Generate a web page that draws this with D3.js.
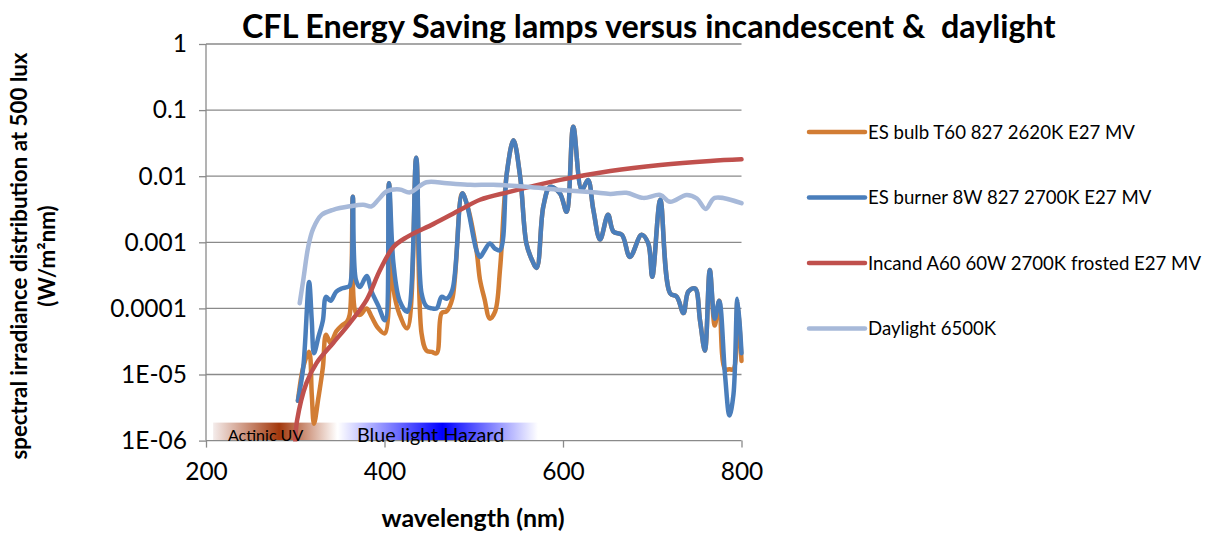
<!DOCTYPE html>
<meta charset="utf-8">
<title>CFL spectra</title>
<script src="https://d3js.org/d3.v7.min.js"></script>
<style>
  body { margin: 0; background: #fff; }
  text { font-family: Lato, "Open Sans", sans-serif; fill: #000; }
  .grid line { stroke: #8a8a8a; stroke-width: 1.3; }
  .axis path, .axis line { stroke: #8a8a8a; stroke-width: 1.3; }
  .axis text { font-size: 24.5px; }
  .series { fill: none; stroke-width: 4.5; stroke-linejoin: round; stroke-linecap: round; }
</style>
<body>
<div id="chart"></div>
<script>
// wavelengths (nm) shared by the two CFL spectra
var wlLamp = [303, 309, 315.5, 318.5, 321, 326, 331, 334.5, 339.5, 346, 352, 358, 361, 364.5, 368, 372.5,
  380, 385.5, 393, 400.5, 405, 410, 417, 425.5, 435.5, 441.5, 447, 453, 458.5, 464, 469.5, 476,
  487, 492, 503, 507, 512, 518, 524, 529.5, 537, 544.5, 552, 559, 565, 570.5, 578, 585.5, 596.5,
  604, 611.5, 621, 628, 634, 641.5, 650.5, 656.5, 666, 675, 688, 695.5, 700, 709, 720, 727.5,
  735, 740.5, 748, 753.5, 759, 764.5, 770, 775, 781.5, 786.5, 791, 795.5, 800];

var esBurner = [4e-6, 1.3e-5, 2.5e-4, 6.6e-5, 2.1e-5, 3.7e-5, 6.6e-5, 1.5e-4, 1.3e-4, 1.8e-4, 2.0e-4, 2.1e-4,
  2.2e-4, 4.9e-3, 2.7e-4, 2.1e-4, 3.1e-4, 1.8e-4, 1.1e-4, 6.6e-5, 7.8e-3, 4.8e-4, 1.3e-4, 8.9e-5,
  1.9e-2, 1.7e-4, 1.07e-4, 1.0e-4, 1.0e-4, 1.5e-4, 1.4e-4, 1.9e-4, 5.5e-3, 3.9e-3, 7.6e-4, 6e-4,
  7.5e-4, 9.6e-4, 8e-4, 7.6e-4, 1.1e-2, 3.5e-2, 9.8e-3, 9.6e-4, 5.5e-4, 4.1e-4, 3.5e-3, 6.9e-3,
  5.5e-3, 2.9e-3, 5.6e-2, 6.2e-3, 8.8e-3, 3.1e-3, 1.1e-3, 2.6e-3, 1.45e-3, 1.3e-3, 6e-4, 1.3e-3,
  9.6e-4, 3e-4, 4.4e-3, 1.7e-4, 1.5e-4, 8.5e-5, 1.8e-4, 2e-4, 6.6e-5, 2.3e-5, 3.8e-4, 7e-5, 1.3e-4,
  1e-5, 2.4e-6, 5e-6, 1.4e-4, 2.1e-5];

var esBulb = [4e-6, 1.3e-5, 2.2e-5, 5e-6, 1.8e-6, 4.5e-6, 1.3e-5, 4e-5, 3e-5, 4.5e-5, 5.5e-5, 6.3e-5,
  8e-5, 4.9e-3, 8.5e-5, 8e-5, 1e-4, 7.5e-5, 5e-5, 4.2e-5, 7.8e-3, 2e-4, 8e-5, 5e-5,
  1.9e-2, 4.2e-5, 2.3e-5, 2.2e-5, 2.1e-5, 8.5e-5, 9e-5, 1.4e-4, 5.5e-3, 3.9e-3, 7.6e-4, 2.7e-4,
  1.4e-4, 7e-5, 9e-5, 4e-4, 1.1e-2, 3.5e-2, 9.8e-3, 9.6e-4, 5.5e-4, 4.1e-4, 3.5e-3, 6.9e-3,
  5.5e-3, 2.9e-3, 5.6e-2, 6.2e-3, 8.8e-3, 3.1e-3, 1.1e-3, 2.6e-3, 1.45e-3, 1.3e-3, 6e-4, 1.3e-3,
  9.6e-4, 3e-4, 4.4e-3, 1.7e-4, 1.5e-4, 8.5e-5, 1.8e-4, 2e-4, 6.6e-5, 2.3e-5, 3.8e-4, 5.5e-5, 1.3e-4,
  1.2e-5, 1.2e-5, 1.2e-5, 1.3e-4, 1.6e-5];

var wlIncand = [300, 302, 312.5, 324, 342.5, 361, 380, 395, 410, 425, 455, 485, 507, 540, 597, 653, 709, 765, 800];
var incand = [1e-6, 2e-6, 7.4e-6, 1.5e-5, 3e-5, 6e-5, 1.35e-4, 3.8e-4, 8.5e-4, 1.2e-3, 1.9e-3, 3.1e-3, 4.4e-3,
  5.8e-3, 8.8e-3, 1.2e-2, 1.48e-2, 1.7e-2, 1.8e-2];

var wlDay = [305, 309, 314.5, 320, 329.5, 342.5, 361, 376, 385.5, 393, 402.5, 417, 428.5, 447, 470, 496, 522,
  559, 597, 634, 653, 671, 690, 709, 720, 738.5, 750, 760, 770, 800];
var daylight = [1.2e-4, 2.7e-4, 8.5e-4, 1.6e-3, 2.6e-3, 3.1e-3, 3.5e-3, 3.7e-3, 3.5e-3, 4.4e-3, 5.9e-3, 6.3e-3,
  5.7e-3, 8.1e-3, 7.8e-3, 7.4e-3, 7.4e-3, 6.9e-3, 6.2e-3, 5.7e-3, 5.4e-3, 5.6e-3, 4.7e-3, 5.2e-3, 4.1e-3,
  5.2e-3, 4.6e-3, 3.2e-3, 4.7e-3, 3.9e-3];

var seriesNames = ["ES bulb T60 827 2620K E27 MV", "ES burner 8W 827 2700K E27 MV",
  "Incand A60 60W 2700K frosted E27 MV", "Daylight 6500K"];
var seriesColors = ["#d27d34", "#4a7ebb", "#c0504d", "#a7b9d9"];

var yTicks = [1e-6, 1e-5, 1e-4, 1e-3, 1e-2, 1e-1, 1];
var yTickLabels = ["1E-06", "1E-05", "0.0001", "0.001", "0.01", "0.1", "1"];
var xTicks = [200, 400, 600, 800];

// hazard bands, nm
var bandNames = ["Actinic UV", "Blue light Hazard"];
var bandFrom = [208, 348];
var bandPeak = [282, 465];
var bandTo = [347, 572];

var W = 1219, H = 533;
var plot = {left: 206, right: 741.5, top: 44, bottom: 440.6};

var svg = d3.select("#chart").append("svg")
  .attr("width", W).attr("height", H);

var x = d3.scaleLinear().domain([200, 800]).range([plot.left, plot.right]);
var y = d3.scaleLog().domain([1e-6, 1]).range([plot.bottom, plot.top]);

// gridlines
svg.append("g").attr("class", "grid")
  .selectAll("line").data(yTicks.slice(1)).enter().append("line")
  .attr("x1", plot.left).attr("x2", plot.right)
  .attr("y1", function(d) { return y(d); }).attr("y2", function(d) { return y(d); });

// bands (gradients)
var defs = svg.append("defs");
var bandColors = ["#a3380c", "#0000ff"];
var bandEdge = ["#f4eceb", "#ffffff"];
bandNames.forEach(function(name, i) {
  var g = defs.append("linearGradient").attr("id", "band" + i)
    .attr("x1", "0").attr("x2", "1").attr("y1", "0").attr("y2", "0");
  var p = (bandPeak[i] - bandFrom[i]) / (bandTo[i] - bandFrom[i]);
  g.append("stop").attr("offset", 0).attr("stop-color", bandEdge[i]);
  g.append("stop").attr("offset", p).attr("stop-color", bandColors[i]);
  g.append("stop").attr("offset", 1).attr("stop-color", "#ffffff");
});
svg.selectAll(".band").data(bandNames).enter().append("rect")
  .attr("class", "band")
  .attr("x", function(d, i) { return x(bandFrom[i]); })
  .attr("width", function(d, i) { return x(bandTo[i]) - x(bandFrom[i]); })
  .attr("y", plot.bottom - 18).attr("height", 18)
  .attr("fill", function(d, i) { return "url(#band" + i + ")"; });

// axes
var yAxis = d3.axisLeft(y).tickValues(yTicks).tickSize(7).tickPadding(12)
  .tickFormat(function(d, i) { return yTickLabels[yTicks.indexOf(d)]; });
svg.append("g").attr("class", "axis")
  .attr("transform", "translate(" + plot.left + ",0)")
  .call(yAxis)
  .call(function(g) { g.select(".domain").attr("d", "M0," + plot.top + "V" + plot.bottom); });

var xAxis = d3.axisBottom(x).tickValues(xTicks).tickSize(7).tickPadding(15)
  .tickFormat(d3.format("d"));
svg.append("g").attr("class", "axis")
  .attr("transform", "translate(0," + plot.bottom + ")")
  .call(xAxis)
  .call(function(g) { g.select(".domain").attr("d", "M" + plot.left + ",0H" + plot.right); });
svg.selectAll(".axis text").attr("font-family", null);

// series
svg.append("clipPath").attr("id", "clip").append("rect")
  .attr("x", plot.left).attr("y", plot.top - 10)
  .attr("width", plot.right - plot.left + 10).attr("height", plot.bottom - plot.top + 11);

var line = d3.line()
  .x(function(d) { return x(d[0]); })
  .y(function(d) { return y(d[1]); })
  .curve(d3.curveCatmullRom.alpha(0.5));

var series = [
  d3.zip(wlLamp, esBulb),
  d3.zip(wlLamp, esBurner),
  d3.zip(wlIncand, incand),
  d3.zip(wlDay, daylight)
];
svg.append("g").attr("clip-path", "url(#clip)")
  .selectAll("path").data(series).enter().append("path")
  .attr("class", "series")
  .attr("stroke", function(d, i) { return seriesColors[i]; })
  .attr("d", line);

// band labels
svg.append("text").attr("x", 228).attr("y", 441).attr("font-size", 16).text(bandNames[0]);
svg.append("text").attr("x", 357).attr("y", 442).attr("font-size", 19.7).text(bandNames[1]);

// legend
var leg = svg.append("g").selectAll("g").data(seriesNames).enter().append("g")
  .attr("transform", function(d, i) { return "translate(809," + (132 + i * 65.5) + ")"; });
leg.append("line").attr("x1", 0).attr("x2", 56)
  .attr("stroke", function(d, i) { return seriesColors[i]; })
  .attr("stroke-width", 4.5).attr("stroke-linecap", "round");
leg.append("text").attr("x", 59).attr("y", 6.5).attr("font-size", 18.6)
  .text(function(d) { return d; });

// titles
svg.append("text").attr("x", 242).attr("y", 38).attr("font-size", 32.3).attr("font-weight", "bold")
  .style("white-space", "pre")
  .text("CFL Energy Saving lamps versus incandescent &  daylight");

svg.append("text").attr("x", 473).attr("y", 527).attr("text-anchor", "middle")
  .attr("font-size", 25).attr("font-weight", "bold").text("wavelength (nm)");

var yt = svg.append("text").attr("transform", "translate(27,256) rotate(-90)")
  .attr("text-anchor", "middle").attr("font-size", 22.3).attr("font-weight", "bold");
yt.append("tspan").attr("x", 0).attr("y", 0).text("spectral irradiance distribution at 500 lux");
yt.append("tspan").attr("x", 0).attr("y", 28).text("(W/m\u00b2nm)");
</script>
</body>
